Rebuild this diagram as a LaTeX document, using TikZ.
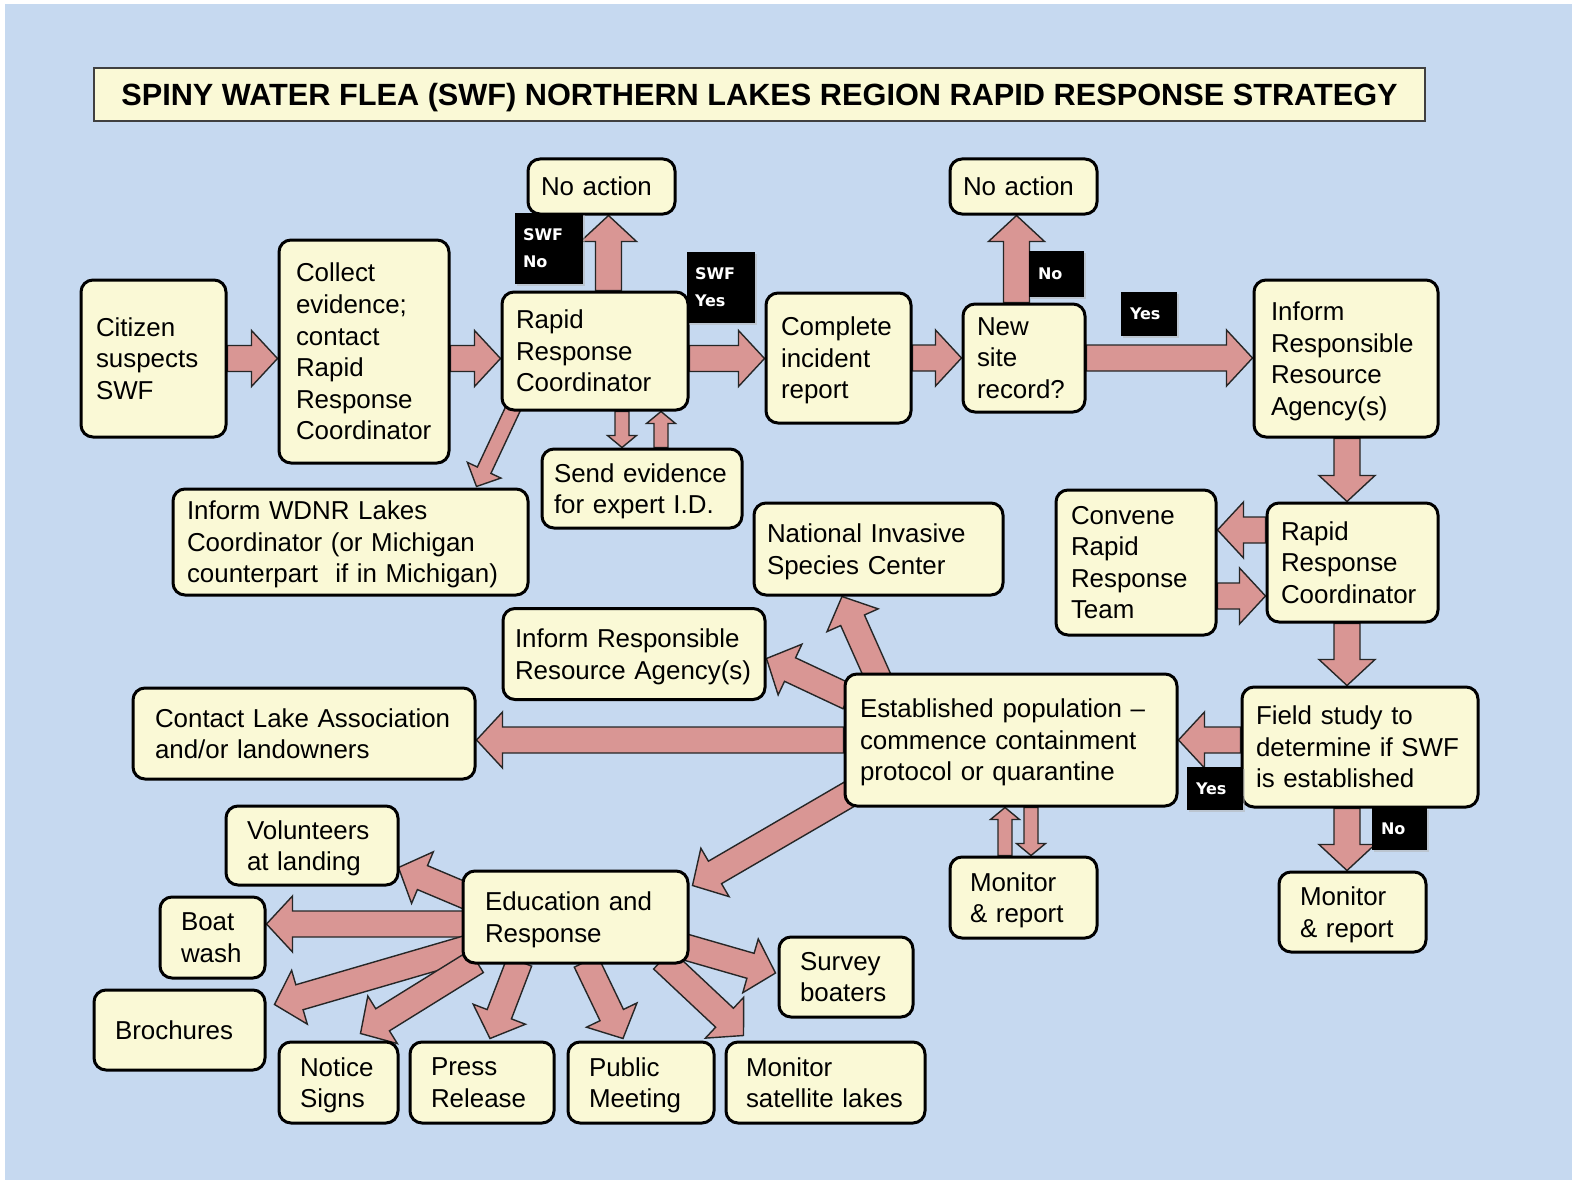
\documentclass[tikz,border=0pt]{standalone}
\usepackage{fontspec}
\setmainfont{Liberation Sans}
\newfontfamily\tagfam{DejaVu Sans}
\usetikzlibrary{calc,shadows}

\definecolor{bgblue}{RGB}{198,217,240}
\definecolor{boxfill}{RGB}{250,249,214}
\definecolor{arrowfill}{RGB}{217,150,148}

\newcommand\boxfont{\fontsize{25.9}{31.6}\selectfont\hyphenpenalty=10000\exhyphenpenalty=10000}
\newcommand\tagfont{\tagfam\bfseries\fontsize{16}{27}\selectfont}
\newcommand\titlefont{\bfseries\fontsize{30.7}{36}\selectfont}

\pgfdeclarelayer{back}
\pgfdeclarelayer{arrows}
\pgfsetlayers{back,arrows,main}

\tikzset{
  flowbox/.style={draw=black, line width=3pt, rounded corners=12pt, fill=boxfill,
    align=left, inner xsep=0pt, inner ysep=0pt, font=\boxfont,
    execute at end node={\par\kern-\prevdepth}},
  sz/.style n args={3}{minimum width=#1pt, minimum height=#2pt, text width=#3pt},
  tagbox/.style={fill=black, text=white, align=left, inner sep=0pt, font=\tagfont,
    drop shadow={shadow xshift=2pt, shadow yshift=-2pt, fill=black!30}},
  titlebox/.style={draw=black!75, line width=1.3pt, fill=boxfill, text depth=0pt, font=\titlefont},
  fatbody/.style={draw=black!85, line width=1.4pt, fill=arrowfill, line join=miter},
  bigarrow/.code={\def\fsh{13pt}\def\fhh{28pt}\def\fhl{26pt}},
  midarrow/.code={\def\fsh{7.5pt}\def\fhh{18.5pt}\def\fhl{18pt}},
  smallarrow/.code={\def\fsh{7pt}\def\fhh{14.5pt}\def\fhl{12pt}},
}

% fat block arrow from #2 to #3
\newcommand\fatarrow[3][bigarrow]{%
  \tikzset{#1}%
  \coordinate (faS) at (#2);
  \coordinate (faE) at (#3);
  \coordinate (faB) at ($(faE)!\fhl!(faS)$);
  \draw[fatbody] ($(faS)!\fsh!90:(faE)$) -- ($(faB)!\fsh!90:(faE)$)
    -- ($(faB)!\fhh!90:(faE)$) -- (faE) -- ($(faB)!\fhh!-90:(faE)$)
    -- ($(faB)!\fsh!-90:(faE)$) -- ($(faS)!\fsh!-90:(faE)$) -- cycle;
}

\begin{document}
\begin{tikzpicture}[x=1pt, y=-1pt]
	\useasboundingbox (0,0) rectangle (1572,1180);
	\begin{pgfonlayer}{back}
		\fill[white] (0,0) rectangle (1572,1180);
		\fill[bgblue] (5,4) rectangle (1572,1180);
	\end{pgfonlayer}

	% Title
	\node[titlebox, minimum width=1331pt, minimum height=53pt] (title) at (759.5,94.5)
		{SPINY WATER FLEA (SWF) NORTHERN LAKES REGION RAPID RESPONSE STRATEGY};

	% Top row
	\node[flowbox, sz={145}{157}{115}] (cit) at (153.5,358.5) {Citizen\\suspects\\SWF};
	\node[flowbox, sz={170}{223}{136}] (col) at (364,351.5) {Collect\\evidence;\\contact\\Rapid\\Response\\Coordinator};
	\node[flowbox, sz={186}{118}{158}] (rrc1) at (595,351) {Rapid\\Response\\Coordinator};
	\node[flowbox, sz={147}{55}{121}] (na1) at (601.5,186.5) {No action};
	\node[flowbox, sz={145}{130}{115}] (cir) at (838.5,358) {Complete\\incident\\report};
	\node[flowbox, sz={122}{108}{94}] (nsr) at (1024,358) {New\\site\\record?};
	\node[flowbox, sz={147}{55}{121}] (na2) at (1023.5,186.5) {No action};
	\node[flowbox, sz={184}{157}{150}] (rra1) at (1346,358.5) {Inform\\Responsible\\Resource\\Agency(s)};

	% Middle
	\node[flowbox, sz={200}{79}{176}] (sev) at (642,488.5) {Send evidence\\for expert I.D.};
	\node[flowbox, sz={355}{106}{327}] (wdnr) at (350.5,542) {Inform WDNR Lakes\\Coordinator (or Michigan\\counterpart\ \ if in Michigan)};
	\node[flowbox, sz={249}{92}{223}] (nisc) at (878.5,549) {National Invasive\\Species Center};
	\node[flowbox, sz={160}{145}{130}] (crrt) at (1136,562.5) {Convene\\Rapid\\Response\\Team};
	\node[flowbox, sz={171}{119}{143}] (rrc2) at (1352.5,562.5) {Rapid\\Response\\Coordinator};
	\node[flowbox, sz={262}{91}{238}] (rra2) at (634,654) {Inform Responsible\\Resource Agency(s)};
	\node[flowbox, sz={342}{91}{298}] (cla) at (304,733.5) {Contact Lake Association\\and/or landowners};
	\node[flowbox, sz={332}{132}{302}] (est) at (1011,740) {Established population --\\commence containment\\protocol or quarantine};
	\node[flowbox, sz={236}{120}{208}] (fld) at (1360,747) {Field study to\\determine if SWF\\is established};
	\node[flowbox, sz={147}{81}{107}] (mr1) at (1023.5,897.5) {Monitor\\\& report};
	\node[flowbox, sz={147}{80}{105}] (mr2) at (1352.5,912) {Monitor\\\& report};

	% Education and its outputs
	\node[flowbox, sz={172}{79}{130}] (vol) at (312,845.5) {Volunteers\\at landing};
	\node[flowbox, sz={225}{92}{181}] (edu) at (575.5,917) {Education and\\Response};
	\node[flowbox, sz={105}{81}{63}] (bw) at (212.5,937.5) {Boat\\wash};
	\node[flowbox, sz={171}{80}{129}] (bro) at (179.5,1030) {Brochures};
	\node[flowbox, sz={134}{80}{92}] (srv) at (846,977) {Survey\\boaters};
	\node[flowbox, sz={119}{81}{77}] (ns) at (338.5,1082.5) {Notice\\Signs};
	\node[flowbox, sz={144}{81}{102}] (pr) at (482,1082.5) {Press\\Release};
	\node[flowbox, sz={146}{81}{104}] (pm) at (641,1082.5) {Public\\Meeting};
	\node[flowbox, sz={199}{81}{159}] (msl) at (825.5,1082.5) {Monitor\\satellite lakes};

	% Yes / No tags
	\node[tagbox, sz={68}{71}{52}] (swfno) at (549,248.5) {SWF\\No};
	\node[tagbox, sz={68}{71}{52}] (swfyes) at (721,287.5) {SWF\\Yes};
	\node[tagbox, sz={55}{46}{37}] (no1) at (1056.5,274) {No};
	\node[tagbox, sz={56}{44}{38}] (yes1) at (1149,314) {Yes};
	\node[tagbox, sz={56}{43}{38}] (yes2) at (1215,788.5) {Yes};
	\node[tagbox, sz={55}{42}{37}] (no2) at (1399.5,829) {No};

	% Arrows
	\begin{pgfonlayer}{arrows}
		\fatarrow{cit.east}{col.west |- cit.east}
		\fatarrow{col.east |- cit.east}{rrc1.west |- cit.east}
		\fatarrow{rrc1.east |- cit.east}{cir.west |- cit.east}
		\fatarrow{cir.east}{nsr.west}
		\fatarrow{nsr.east}{rra1.west |- nsr.east}
		\fatarrow{[xshift=13.5pt]rrc1.north}{[xshift=7pt]na1.south}
		\fatarrow{[xshift=-7.5pt]nsr.north}{[xshift=-7pt]na2.south}
		\fatarrow{[xshift=1pt]rra1.south}{[xshift=-5.5pt]rrc2.north}
		\fatarrow{[yshift=32.5pt]rrc2.west}{[yshift=32.5pt]crrt.east}
		\fatarrow{[yshift=-33.5pt]crrt.east}{[yshift=-33.5pt]rrc2.west}
		\fatarrow{[xshift=-5.5pt]rrc2.south}{[xshift=-13pt]fld.north}
		\fatarrow{[yshift=7pt]fld.west}{est.east}
		\fatarrow{[xshift=-13pt]fld.south}{[xshift=-5.5pt]mr2.north}
		\fatarrow{est.west}{[yshift=-6.5pt]cla.east}
		\fatarrow{[xshift=35pt,yshift=-6pt]est.north west}{[xshift=-36.5pt]nisc.south}
		\fatarrow{[xshift=5pt,yshift=43pt]est.west}{[yshift=-4.5pt]rra2.east}
		\fatarrow{[xshift=7pt,yshift=14pt]est.south west}{[xshift=3pt,yshift=-16pt]edu.north east}
		\fatarrow{[xshift=7pt,yshift=20pt]edu.west}{[xshift=-1pt,yshift=19pt]vol.south east}
		\fatarrow{[xshift=5pt,yshift=-7pt]edu.west}{[yshift=13.5pt]bw.east}
		\fatarrow{[xshift=7pt,yshift=-31pt]edu.west}{[xshift=8pt,yshift=-16pt]bro.north east}
		\fatarrow{[xshift=15pt,yshift=3pt]edu.south west}{[xshift=83pt,yshift=7pt]ns.north west}
		\fatarrow{[xshift=58pt,yshift=3pt]edu.south west}{[xshift=8pt,yshift=2pt]pr.north}
		\fatarrow{[xshift=10.5pt,yshift=3pt]edu.south}{[xshift=-18pt,yshift=2pt]pm.north}
		\fatarrow{[xshift=-27pt,yshift=5pt]edu.south east}{[xshift=19pt,yshift=5pt]msl.north west}
		\fatarrow{[xshift=-6pt,yshift=18pt]edu.south east}{[xshift=-2pt,yshift=4pt]srv.west}
		\fatarrow[midarrow]{[xshift=14pt,yshift=6pt]rrc1.south west}{[xshift=-53pt,yshift=1pt]wdnr.north east}
		\fatarrow[smallarrow]{[xshift=27pt]rrc1.south}{[xshift=-20pt]sev.north}
		\fatarrow[smallarrow]{[xshift=19pt]sev.north}{[xshift=66pt]rrc1.south}
		\fatarrow[smallarrow]{[xshift=-18.5pt]mr1.north}{[xshift=-6pt]est.south}
		\fatarrow[smallarrow]{[xshift=20pt]est.south}{[xshift=7.5pt]mr1.north}
	\end{pgfonlayer}
\end{tikzpicture}
\end{document}
